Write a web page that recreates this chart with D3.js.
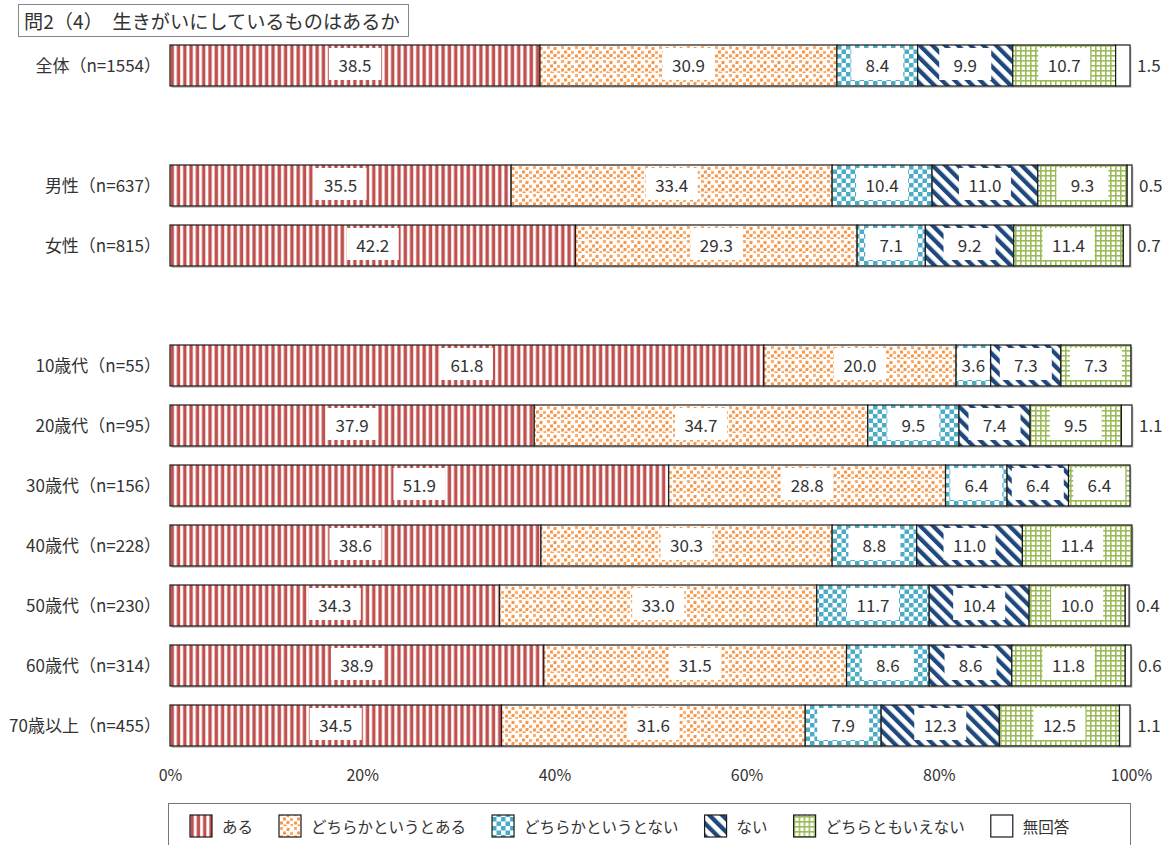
<!DOCTYPE html>
<html>
<head>
<meta charset="utf-8">
<script src="https://cdn.jsdelivr.net/npm/d3@7"></script>
<style>
  body { margin: 0; background: #fff; }
  svg { display: block; }
  text { font-family: "Noto Sans CJK JP", "Noto Sans", sans-serif; fill: #333; }
</style>
</head>
<body>
<svg width="1173" height="845"></svg>
<script>
// data
const title = "問2（4）　生きがいにしているものはあるか";
const answers = ["ある", "どちらかというとある", "どちらかというとない", "ない", "どちらともいえない", "無回答"];
const groups = ["全体（n=1554）", "男性（n=637）", "女性（n=815）", "10歳代（n=55）", "20歳代（n=95）",
  "30歳代（n=156）", "40歳代（n=228）", "50歳代（n=230）", "60歳代（n=314）", "70歳以上（n=455）"];
const rowSlot = [0, 2, 3, 5, 6, 7, 8, 9, 10, 11]; // blank rows between blocks
const aru      = [38.5, 35.5, 42.2, 61.8, 37.9, 51.9, 38.6, 34.3, 38.9, 34.5];
const yaYaAru  = [30.9, 33.4, 29.3, 20.0, 34.7, 28.8, 30.3, 33.0, 31.5, 31.6];
const yaYaNai  = [8.4, 10.4, 7.1, 3.6, 9.5, 6.4, 8.8, 11.7, 8.6, 7.9];
const nai      = [9.9, 11.0, 9.2, 7.3, 7.4, 6.4, 11.0, 10.4, 8.6, 12.3];
const dochira  = [10.7, 9.3, 11.4, 7.3, 9.5, 6.4, 11.4, 10.0, 11.8, 12.5];
const muKaitou = [1.5, 0.5, 0.7, 0, 1.1, 0, 0, 0.4, 0.6, 1.1];
const xTicks = [0, 20, 40, 60, 80, 100];

const series = [aru, yaYaAru, yaYaNai, nai, dochira, muKaitou];
const colors = ["#C0504D", "#F79646", "#4BACC6", "#1F497D", "#9BBB59", "#ffffff"];

const svg = d3.select("svg");
const defs = svg.append("defs");

// fill patterns (approximating the Excel hatches)
const p0 = defs.append("pattern").attr("id", "pat0").attr("patternUnits", "userSpaceOnUse")
  .attr("width", 6.3).attr("height", 10);
p0.append("rect").attr("width", 6.3).attr("height", 10).attr("fill", "#fff");
p0.append("rect").attr("x", 0.4).attr("width", 3.4).attr("height", 10).attr("fill", colors[0]);

const p1 = defs.append("pattern").attr("id", "pat1").attr("patternUnits", "userSpaceOnUse")
  .attr("width", 14).attr("height", 14);
p1.append("rect").attr("width", 14).attr("height", 14).attr("fill", "#fff");
[[1, 1], [7.5, 2], [4, 5.5], [11, 6], [1, 9.5], [7.5, 9], [11.5, 12], [4.5, 12.5]].forEach(([x, y], i) => {
  p1.append("rect").attr("x", x).attr("y", y).attr("width", 3).attr("height", 3)
    .attr("fill", colors[1]).attr("opacity", i % 3 === 0 ? 0.8 : 1)
    .attr("transform", `rotate(${i % 2 ? 12 : -10},${x + 1.5},${y + 1.5})`);
});

const p2 = defs.append("pattern").attr("id", "pat2").attr("patternUnits", "userSpaceOnUse")
  .attr("width", 9).attr("height", 9);
p2.append("rect").attr("width", 9).attr("height", 9).attr("fill", "#fff");
p2.append("rect").attr("width", 4.5).attr("height", 4.5).attr("fill", colors[2]);
p2.append("rect").attr("x", 4.5).attr("y", 4.5).attr("width", 4.5).attr("height", 4.5).attr("fill", colors[2]);

const p3 = defs.append("pattern").attr("id", "pat3").attr("patternUnits", "userSpaceOnUse")
  .attr("width", 9).attr("height", 9).attr("patternTransform", "rotate(-45)");
p3.append("rect").attr("width", 9).attr("height", 9).attr("fill", "#fff");
p3.append("rect").attr("width", 4.3).attr("height", 9).attr("fill", colors[3]);

const p4 = defs.append("pattern").attr("id", "pat4").attr("patternUnits", "userSpaceOnUse")
  .attr("width", 5).attr("height", 5);
p4.append("rect").attr("width", 5).attr("height", 5).attr("fill", "#fff");
p4.append("rect").attr("width", 1.6).attr("height", 5).attr("fill", colors[4]);
p4.append("rect").attr("width", 5).attr("height", 1.6).attr("fill", colors[4]);

const fills = [0, 1, 2, 3, 4].map(i => `url(#pat${i})`).concat(["#fff"]);

// scales
const x = d3.scaleLinear().domain([0, 100]).range([170, 1131]);
const y = d3.scaleLinear().domain([0, 11]).range([65.5, 725.5]);
const barH = 41;

// title
svg.append("rect").attr("x", 18.5).attr("y", 4.5).attr("width", 390).attr("height", 32)
  .attr("fill", "#fff").attr("stroke", "#888");
svg.append("text").attr("x", 24).attr("y", 21).attr("dominant-baseline", "central")
  .attr("font-size", 19.2).attr("fill", "#222").text(title);

// rows
const rows = groups.map((g, i) => {
  let cum = 0;
  const segs = series.map((s, k) => {
    const seg = { k, v: s[i], x0: cum, x1: cum + s[i] };
    cum += s[i];
    return seg;
  });
  return { g, slot: rowSlot[i], segs, total: cum };
});

const row = svg.append("g").selectAll("g").data(rows).join("g")
  .attr("transform", d => `translate(0,${y(d.slot) - barH / 2})`);

// light shadow under each bar
row.append("rect").attr("x", x(0) + 1.5).attr("y", 2).attr("height", barH)
  .attr("width", d => x(d.total) - x(0)).attr("fill", "#c8c8c8");

row.selectAll("rect.seg").data(d => d.segs.filter(s => s.v > 0)).join("rect")
  .attr("class", "seg")
  .attr("x", s => x(s.x0)).attr("width", s => x(s.x1) - x(s.x0))
  .attr("height", barH)
  .attr("fill", s => fills[s.k]).attr("stroke", "#1a1a1a").attr("stroke-width", 1.2);

// value labels inside segments
const inside = row.selectAll("g.lab").data(d => d.segs.filter(s => s.v > 0 && s.k < 5)).join("g")
  .attr("class", "lab")
  .attr("transform", s => `translate(${(x(s.x0) + x(s.x1)) / 2},${barH / 2 - 1.5})`);
inside.append("rect")
  .attr("x", s => -Math.min(52, x(s.x1) - x(s.x0) - 2) / 2)
  .attr("width", s => Math.min(52, x(s.x1) - x(s.x0) - 2))
  .attr("y", -16).attr("height", 32).attr("fill", "#fff");
inside.append("text").attr("text-anchor", "middle").attr("dominant-baseline", "central")
  .attr("font-size", 17).text(s => s.v.toFixed(1));

// 無回答 labels outside the bar
row.selectAll("text.out").data(d => d.segs.filter(s => s.v > 0 && s.k === 5)).join("text")
  .attr("class", "out")
  .attr("x", s => x(s.x1) + 7).attr("y", barH / 2 - 1.5)
  .attr("dominant-baseline", "central").attr("font-size", 17)
  .text(s => s.v.toFixed(1));

// category labels (full-width bracket leaves blank space at the end)
row.append("text").attr("x", 161).attr("y", barH / 2 - 1)
  .attr("text-anchor", "end").attr("dominant-baseline", "central")
  .attr("font-size", 17).text(d => d.g);

// x axis (labels only)
const axis = svg.append("g").attr("transform", "translate(0,767)")
  .call(d3.axisBottom(x).tickValues(xTicks).tickSize(0).tickFormat(d => d + "%"));
axis.select(".domain").remove();
axis.selectAll("text").attr("font-size", 16).attr("fill", "#333")
  .attr("font-family", "\"Noto Sans CJK JP\", sans-serif");

// legend
svg.append("rect").attr("x", 168.5).attr("y", 803.5).attr("width", 962).attr("height", 60)
  .attr("fill", "#fff").attr("stroke", "#777");
const leg = svg.append("g");
let lx = 190;
answers.forEach((a, i) => {
  const item = leg.append("g").attr("transform", `translate(${lx},826)`);
  item.append("rect").attr("x", 0).attr("y", -11).attr("width", 22).attr("height", 22)
    .attr("fill", fills[i]).attr("stroke", "#1a1a1a").attr("stroke-width", 1.2);
  const t = item.append("text").attr("x", 32).attr("dominant-baseline", "central")
    .attr("font-size", 15.5).text(a);
  lx += 32 + t.node().getComputedTextLength() + 26;
});
</script>
</body>
</html>
